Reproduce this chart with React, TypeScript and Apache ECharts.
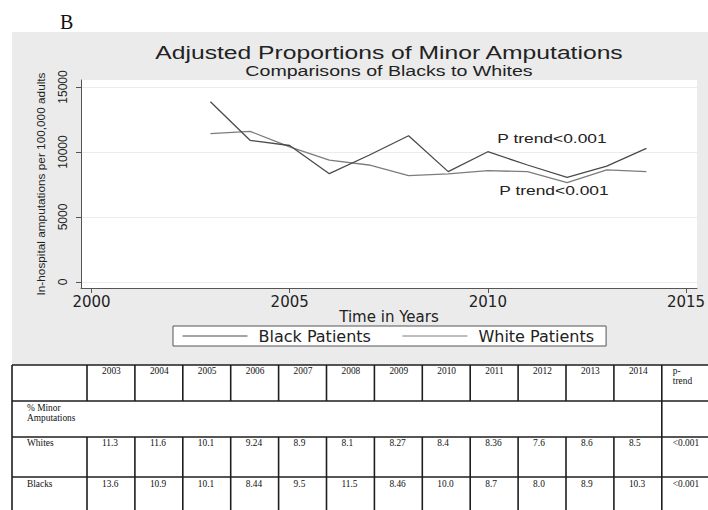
import React, { useEffect, useRef } from "react";
import * as echarts from "echarts";

// ---- chart data ----
const years = [2003, 2004, 2005, 2006, 2007, 2008, 2009, 2010, 2011, 2012, 2013, 2014];
const blackRate = [13870, 10900, 10500, 8330, 9750, 11250, 8490, 10020, 9000, 8050, 8920, 10280];
const whiteRate = [11410, 11590, 10400, 9380, 9000, 8180, 8310, 8560, 8490, 7640, 8620, 8490];
const xTicks = [2000, 2005, 2010, 2015];
const yTicks = [0, 5000, 10000, 15000];

// ---- table data ----
const tableYears = ["2003", "2004", "2005", "2006", "2007", "2008", "2009", "2010", "2011", "2012", "2013", "2014"];
const tableWhites = ["11.3", "11.6", "10.1", "9.24", "8.9", "8.1", "8.27", "8.4", "8.36", "7.6", "8.6", "8.5"];
const tableBlacks = ["13.6", "10.9", "10.1", "8.44", "9.5", "11.5", "8.46", "10.0", "8.7", "8.0", "8.9", "10.3"];
const tableRowLabels = ["Whites", "Blacks"];
const pTrends = ["<0.001", "<0.001"];

function buildTable(): any[] {
  const els: any[] = [];
  const x0 = 12;
  const firstColRight = 87;
  const colW = 47.9;
  const yearColX = tableYears.map((_, i) => firstColRight + i * colW);
  const pColX = firstColRight + tableYears.length * colW; // ~662
  const rightX = pColX + 48;
  const rowY = [365, 401, 437, 477, 517];
  const lineStyle = { stroke: "#1e1e1e", lineWidth: 1.6 };
  const font = { fontFamily: "Liberation Serif", fontSize: 9.4, fill: "#111" };

  els.push({ type: "rect", shape: { x: x0, y: rowY[0], width: rightX - x0, height: 520 - rowY[0] }, style: { fill: "#fff" }, z: -5 });
  rowY.forEach((y) => {
    els.push({ type: "line", shape: { x1: x0, y1: y, x2: rightX, y2: y }, style: lineStyle });
  });
  const fullRows = [0, 2, 3];
  const verts = [x0, firstColRight, ...yearColX.slice(1), pColX, rightX];
  verts.forEach((x) => {
    const isAlways = x === x0 || x === pColX || x === rightX;
    if (isAlways) {
      els.push({ type: "line", shape: { x1: x, y1: rowY[0], x2: x, y2: rowY[4] }, style: lineStyle });
    } else {
      fullRows.forEach((r) => {
        els.push({ type: "line", shape: { x1: x, y1: rowY[r], x2: x, y2: rowY[r + 1] }, style: lineStyle });
      });
    }
  });
  const txt = (text: string, x: number, y: number) =>
    els.push({ type: "text", x, y, style: { text, ...font, align: "left", verticalAlign: "middle" } });

  tableYears.forEach((t, i) => txt(t, yearColX[i] + 15, 371));
  txt("p-", pColX + 11, 371);
  txt("trend", pColX + 11, 380.5);
  txt("% Minor", x0 + 15, 408);
  txt("Amputations", x0 + 15, 417.5);
  const rowsVals = [tableWhites, tableBlacks];
  const rowCenters = [443, 484];
  rowsVals.forEach((vals, r) => {
    txt(tableRowLabels[r], x0 + 15, rowCenters[r]);
    vals.forEach((v, i) => txt(v, yearColX[i] + 15, rowCenters[r]));
    txt(pTrends[r], pColX + 11, rowCenters[r]);
  });
  return els;
}

export default function App() {
  const ref = useRef<HTMLDivElement>(null);
  useEffect(() => {
    if (!ref.current) return;
    const chart = echarts.init(ref.current, null, { renderer: "svg" });
    const axisColor = "#555";
    const sans = "Liberation Sans";
    const option: any = {
      animation: false,
      backgroundColor: "#fff",
      grid: [
        {
          left: 81,
          top: 80,
          right: 11,
          bottom: 222,
          show: true,
          backgroundColor: "#fff",
          borderWidth: 0,
          containLabel: false,
          outerBoundsMode: "none",
        },
        {
          // gridline helper: spans exactly 0..15000
          left: 81,
          top: 87,
          right: 11,
          bottom: 228,
          show: false,
          containLabel: false,
          outerBoundsMode: "none",
        },
      ],
      xAxis: [
        {
          type: "value",
          gridIndex: 0,
          min: 1999.735,
          max: 2015.277,
          name: "Time in Years",
          nameLocation: "middle",
          nameGap: 12,
          nameTextStyle: { fontFamily: "DejaVu Sans", fontSize: 15, color: "#222" },
          axisLine: { show: true, onZero: false, lineStyle: { color: axisColor, width: 1 } },
          axisTick: { show: true, length: 5, customValues: xTicks, lineStyle: { color: axisColor } },
          axisLabel: {
            customValues: xTicks,
            margin: 6,
            fontFamily: "DejaVu Sans",
            fontSize: 15,
            color: "#222",
            formatter: (v: number) => String(v),
          },
          splitLine: { show: false },
        },
        {
          type: "value",
          gridIndex: 1,
          min: 0,
          max: 1,
          show: false,
        },
      ],
      yAxis: [
        {
          type: "value",
          gridIndex: 0,
          min: -461.5,
          max: 15538,
          name: "In-hospital amputations per 100,000 adults",
          nameLocation: "middle",
          nameRotate: 90,
          nameGap: 34,
          nameTextStyle: { fontFamily: sans, fontSize: 11.8, color: "#222" },
          axisLine: { show: true, onZero: false, lineStyle: { color: axisColor, width: 1 } },
          axisTick: { show: true, length: 5, customValues: yTicks, lineStyle: { color: axisColor } },
          axisLabel: {
            customValues: yTicks,
            rotate: 90,
            margin: 12,
            fontFamily: sans,
            fontSize: 12,
            color: "#222",
            formatter: (v: number) => String(v),
          },
          splitLine: { show: false },
        },
        {
          type: "value",
          gridIndex: 1,
          min: yTicks[0],
          max: yTicks[yTicks.length - 1],
          interval: 5000,
          axisLine: { show: false },
          axisTick: { show: false },
          axisLabel: { show: false },
          splitLine: { show: true, lineStyle: { color: "#ececec", width: 1 } },
        },
      ],
      legend: {
        data: ["Black Patients", "White Patients"],
        left: 173,
        top: 326,
        orient: "horizontal",
        backgroundColor: "#fff",
        borderColor: "#555",
        borderWidth: 1,
        borderRadius: 0,
        padding: [2, 12, 2, 9],
        itemWidth: 65,
        itemHeight: 14,
        itemGap: 31,
        itemStyle: { opacity: 0 },
        lineStyle: { width: 1 },
        textStyle: { fontFamily: "DejaVu Sans", fontSize: 16, color: "#222", padding: [0, 0, 0, 6] },
      },
      series: [
        {
          name: "Black Patients",
          type: "line",
          xAxisIndex: 0,
          yAxisIndex: 0,
          z: 3,
          symbol: "none",
          color: "#4a4a4a",
          lineStyle: { color: "#4a4a4a", width: 1.3 },
          data: years.map((y, i) => [y, blackRate[i]]),
        },
        {
          name: "White Patients",
          type: "line",
          xAxisIndex: 0,
          yAxisIndex: 0,
          z: 2,
          symbol: "none",
          color: "#7c7c7c",
          lineStyle: { color: "#7c7c7c", width: 1.3 },
          data: years.map((y, i) => [y, whiteRate[i]]),
        },
      ],
      graphic: [
        { type: "rect", z: -100, shape: { x: 12, y: 32, width: 700, height: 333 }, style: { fill: "#ebebeb" } },
        {
          type: "text",
          x: 60,
          y: 21.5,
          style: { text: "B", fontFamily: "Liberation Serif", fontSize: 20, fill: "#111", align: "left", verticalAlign: "middle" },
        },
        {
          type: "text",
          x: 389,
          y: 53,
          scaleX: 1.41,
          style: { text: "Adjusted Proportions of Minor Amputations", fontFamily: sans, fontSize: 17.5, fill: "#222", align: "center", verticalAlign: "middle" },
        },
        {
          type: "text",
          x: 389,
          y: 71.5,
          scaleX: 1.4,
          style: { text: "Comparisons of Blacks to Whites", fontFamily: sans, fontSize: 14, fill: "#222", align: "center", verticalAlign: "middle" },
        },
        {
          type: "text",
          x: 552,
          y: 139,
          scaleX: 1.45,
          z: 10,
          style: { text: "P trend<0.001", fontFamily: sans, fontSize: 12, fill: "#222", align: "center", verticalAlign: "middle" },
        },
        {
          type: "text",
          x: 554,
          y: 190.5,
          scaleX: 1.45,
          z: 10,
          style: { text: "P trend<0.001", fontFamily: sans, fontSize: 12, fill: "#222", align: "center", verticalAlign: "middle" },
        },
        ...buildTable(),
      ],
    };
    chart.setOption(option);
    return () => chart.dispose();
  }, []);
  return <div ref={ref} style={{ position: "fixed", left: 0, top: 0, width: 708, height: 510 }} />;
}
